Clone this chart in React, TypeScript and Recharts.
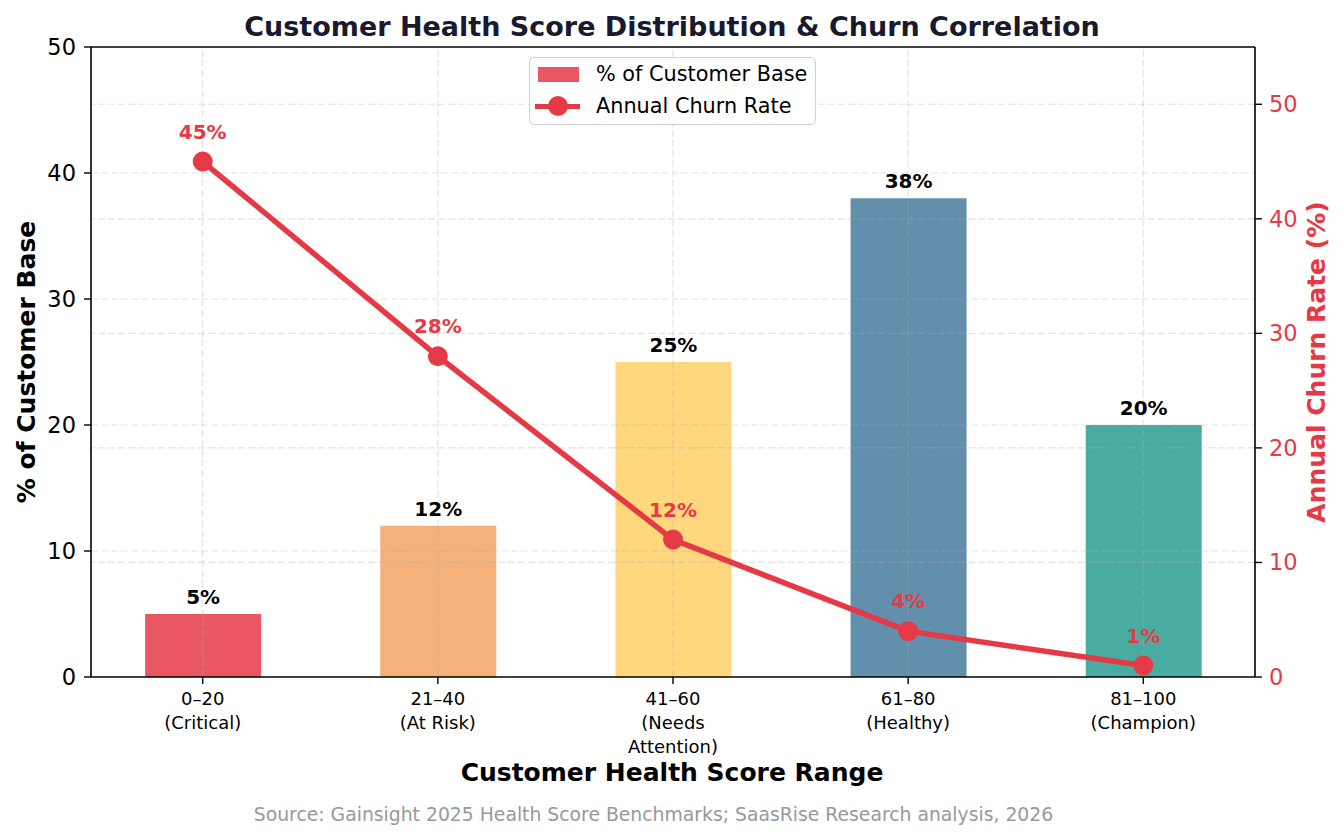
import React from "react";
import { ComposedChart, Bar, Line, XAxis, YAxis, Cell, LabelList, ReferenceLine } from "recharts";

const categories = ["0–20\n(Critical)", "21–40\n(At Risk)", "41–60\n(Needs\nAttention)", "61–80\n(Healthy)", "81–100\n(Champion)"];
const customerShare = [5, 12, 25, 38, 20];
const churnRate = [45, 28, 12, 4, 1];
const barColors = ["#E63946", "#F4A261", "#FFD166", "#457B9D", "#2A9D8F"];
const leftTicks = [0, 10, 20, 30, 40, 50];
const rightTicks = [0, 10, 20, 30, 40, 50];

const RED = "#E63946";
const FONT = "'DejaVu Sans', sans-serif";

const data = categories.map((c, i) => ({ idx: i, label: c, share: customerShare[i], churn: churnRate[i] }));

function CategoryTick(props: any) {
  const { x, y, payload } = props;
  const lines = categories[payload.value].split("\n");
  return (
    <text x={x} y={y} textAnchor="middle" fontSize={18} fill="#000" fontFamily={FONT}>
      {lines.map((l, i) => (
        <tspan key={i} x={x} dy={i === 0 ? 19 : 24}>{l}</tspan>
      ))}
    </text>
  );
}

const gridStyle = { stroke: "#b0b0b0", strokeOpacity: 0.35, strokeDasharray: "7 3", strokeWidth: 1.2 };

export default function App() {
  return (
    <div style={{ position: "absolute", left: 0, top: 0, width: 1344, height: 840, background: "#fff", fontFamily: FONT }}>
      <ComposedChart width={1344} height={840} data={data} margin={{ top: 47, right: 0, bottom: 0, left: 0 }}>
        <XAxis type="number" dataKey="idx" domain={[-0.475, 4.475]} ticks={[0, 1, 2, 3, 4]} interval={0}
          height={163} tick={<CategoryTick />} tickSize={7} axisLine={{ stroke: "#000", strokeWidth: 1.6 }}
          tickLine={{ stroke: "#000", strokeWidth: 1.4 }} allowDataOverflow />
        <YAxis yAxisId="left" domain={[0, 50]} ticks={leftTicks} width={91} tickSize={7} tickMargin={8}
          axisLine={{ stroke: "#000", strokeWidth: 1.6 }} tickLine={{ stroke: "#000", strokeWidth: 1.4 }}
          tick={{ fontSize: 22.5, fill: "#000", fontFamily: FONT }} />
        <YAxis yAxisId="right" orientation="right" domain={[0, 55]} ticks={rightTicks} width={89} tickSize={7} tickMargin={7}
          axisLine={{ stroke: "#000", strokeWidth: 1.6 }} tickLine={{ stroke: "#000", strokeWidth: 1.4 }}
          tick={{ fontSize: 22.5, fill: RED, fontFamily: FONT }} />
        <Bar dataKey="share" yAxisId="left" barSize={116} fillOpacity={0.85} isAnimationActive={false}>
          {data.map((d, i) => (
            <Cell key={i} fill={barColors[i]} />
          ))}
          <LabelList dataKey="share" position="top" offset={10} formatter={(v: any) => `${v}%`}
            style={{ fontSize: 20, fontWeight: "bold", fill: "#000", fontFamily: FONT }} />
        </Bar>
        {leftTicks.slice(1, -1).map((t) => (
          <ReferenceLine key={"l" + t} yAxisId="left" y={t} {...gridStyle} />
        ))}
        {rightTicks.slice(1).map((t) => (
          <ReferenceLine key={"r" + t} yAxisId="right" y={t} {...gridStyle} />
        ))}
        {data.map((d) => (
          <ReferenceLine key={"v" + d.idx} yAxisId="left" x={d.idx} {...gridStyle} />
        ))}
        <ReferenceLine yAxisId="left" y={50} stroke="#000" strokeWidth={1.6} />
        <Line dataKey="churn" yAxisId="right" stroke={RED} strokeWidth={5.5}
          dot={{ r: 10, fill: RED, stroke: RED, strokeWidth: 0 }} isAnimationActive={false}>
          <LabelList dataKey="churn" position="top" offset={23} formatter={(v: any) => `${v}%`}
            style={{ fontSize: 20, fontWeight: "bold", fill: RED, fontFamily: FONT }} />
        </Line>
      </ComposedChart>

      <div style={{ position: "absolute", left: 0, width: 1344, top: 11, textAlign: "center", fontSize: 27, lineHeight: "32px", fontWeight: "bold", color: "#1a1a2e" }}>
        Customer Health Score Distribution &amp; Churn Correlation
      </div>
      <div style={{ position: "absolute", left: 26, top: 362, transform: "translate(-50%, -50%) rotate(-90deg)", whiteSpace: "nowrap", fontSize: 25, fontWeight: "bold", color: "#000" }}>
        % of Customer Base
      </div>
      <div style={{ position: "absolute", left: 1316, top: 362, transform: "translate(-50%, -50%) rotate(-90deg)", whiteSpace: "nowrap", fontSize: 25, fontWeight: "bold", color: RED }}>
        Annual Churn Rate (%)
      </div>
      <div style={{ position: "absolute", left: 0, width: 1344, top: 758, textAlign: "center", fontSize: 25, lineHeight: "30px", fontWeight: "bold", color: "#000" }}>
        Customer Health Score Range
      </div>
      <div style={{ position: "absolute", left: 0, width: 1307, top: 804, textAlign: "center", fontSize: 18.8, lineHeight: "22px", color: "#999" }}>
        Source: Gainsight 2025 Health Score Benchmarks; SaasRise Research analysis, 2026
      </div>

      <div style={{ position: "absolute", left: 529, top: 57, width: 285, height: 66, border: "1.5px solid #d0d0d0", borderRadius: 5, background: "rgba(255,255,255,0.85)" }}>
        <div style={{ position: "absolute", left: 8, top: 9, width: 41, height: 15, background: RED, opacity: 0.85 }} />
        <div style={{ position: "absolute", left: 66, top: 4, fontSize: 20.8, lineHeight: "24px", color: "#000", whiteSpace: "nowrap" }}>% of Customer Base</div>
        <div style={{ position: "absolute", left: 5, top: 46, width: 45, height: 5, background: RED }} />
        <div style={{ position: "absolute", left: 18, top: 38, width: 20, height: 20, borderRadius: "50%", background: RED }} />
        <div style={{ position: "absolute", left: 66, top: 36, fontSize: 20.8, lineHeight: "24px", color: "#000", whiteSpace: "nowrap" }}>Annual Churn Rate</div>
      </div>
    </div>
  );
}
